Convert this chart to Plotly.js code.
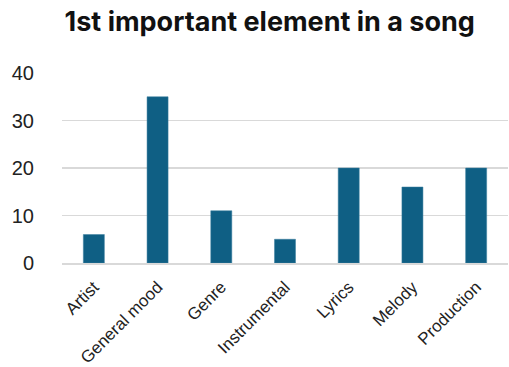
<!DOCTYPE html>
<html><head><meta charset="utf-8">
<script src="https://cdn.plot.ly/plotly-3.0.1.min.js"></script>
<style>html,body{margin:0;padding:0;background:#fff}#chart{width:509px;height:367px}</style>
</head><body><div id="chart"></div>
<script>
const categories = ["Artist", "General mood", "Genre", "Instrumental", "Lyrics", "Melody", "Production"];
const counts = [6, 35, 11, 5, 20, 16, 20];
const yTicks = [0, 10, 20, 30, 40];

Plotly.newPlot('chart', [{
  type: 'bar', x: categories, y: counts,
  marker: {color: '#0f5f84', line: {color: '#3a7e9e', width: 0.5}},
  hoverinfo: 'skip'
}], {
  width: 509, height: 367,
  margin: {l: 62, r: 1, t: 73, b: 104},
  paper_bgcolor: '#fff', plot_bgcolor: '#fff',
  bargap: 0.67,
  showlegend: false,
  title: {text: '1st important element in a song', font: {family: 'Inter, Liberation Sans, sans-serif', size: 27, color: '#111', weight: 700}, x: 0.53, xanchor: 'center', y: 0.94, yanchor: 'middle'},
  xaxis: {tickangle: -45, tickfont: {family: 'Liberation Sans, Arial, sans-serif', size: 17, color: '#222'}, showline: true, linecolor: '#d9d9d9', linewidth: 1.5, ticks: '', showgrid: false, ticklabelstandoff: 6},
  yaxis: {range: [0, 40], tickvals: yTicks, tickfont: {family: 'Liberation Sans, Arial, sans-serif', size: 20, color: '#222'}, gridcolor: '#d9d9d9', gridwidth: 1.5, zeroline: false, showline: false, ticks: '', ticklabelstandoff: 27}
}, {staticPlot: true, displayModeBar: false});
</script></body></html>
